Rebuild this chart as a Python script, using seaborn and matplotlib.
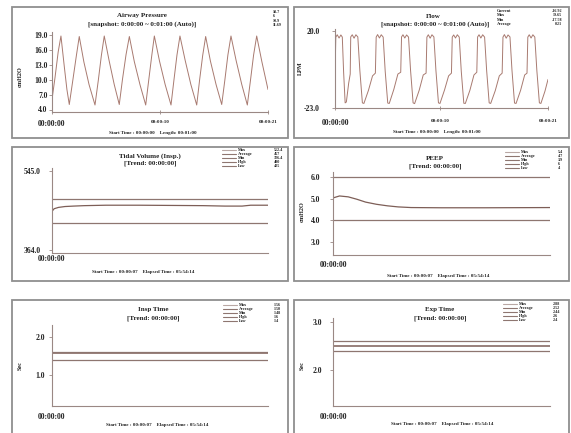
import matplotlib
matplotlib.use("Agg")
import matplotlib.pyplot as plt
import seaborn as sns
from matplotlib.lines import Line2D
from matplotlib.patches import Rectangle

# ---------------- data ----------------
paw_t = [0.00, 0.30, 0.60, 0.87, 1.20, 1.45, 1.68,
         2.00, 2.35, 2.65, 3.10, 3.60, 4.18,
         4.50, 4.80, 5.08, 5.55, 6.05, 6.54,
         6.85, 7.20, 7.52, 8.00, 8.55, 9.11,
         9.40, 9.70, 9.95, 10.45, 11.00, 11.57,
         11.85, 12.15, 12.44, 12.95, 13.50, 14.07,
         14.35, 14.65, 14.94, 15.40, 15.95, 16.50,
         16.80, 17.10, 17.40, 17.90, 18.45, 18.99,
         19.30, 19.60, 19.90, 20.40, 21.00]
paw_v = [6.0, 10.5, 15.5, 18.7, 12.5, 8.0, 5.0,
         9.5, 14.5, 18.6, 13.5, 9.0, 4.9,
         9.8, 14.8, 18.7, 13.8, 9.0, 5.0,
         10.0, 15.0, 18.6, 13.6, 9.0, 4.9,
         9.8, 14.8, 18.7, 13.7, 9.0, 4.9,
         9.8, 14.9, 18.7, 13.8, 9.0, 4.9,
         9.9, 14.8, 18.6, 13.7, 9.0, 5.0,
         9.8, 14.9, 18.7, 13.8, 9.0, 4.9,
         9.9, 14.9, 18.7, 13.6, 8.0]

flow_t = [0.00, 0.08, 0.22, 0.40, 0.58, 0.72, 0.85, 1.00, 1.12, 1.35, 1.50,
          1.55, 1.70, 1.88, 2.06, 2.25, 2.45, 2.70, 2.85, 3.30, 3.70, 3.98,
          4.06, 4.20, 4.38, 4.56, 4.75, 4.95, 5.20, 5.35, 5.80, 6.20, 6.48,
          6.56, 6.70, 6.88, 7.06, 7.25, 7.45, 7.70, 7.85, 8.30, 8.70, 8.98,
          9.06, 9.20, 9.38, 9.56, 9.75, 9.95, 10.20, 10.35, 10.80, 11.20, 11.48,
          11.56, 11.70, 11.88, 12.06, 12.25, 12.45, 12.70, 12.85, 13.30, 13.70, 13.98,
          14.06, 14.20, 14.38, 14.56, 14.75, 14.95, 15.20, 15.35, 15.80, 16.20, 16.48,
          16.56, 16.70, 16.88, 17.06, 17.25, 17.45, 17.70, 17.85, 18.30, 18.70, 18.93,
          19.01, 19.15, 19.33, 19.51, 19.70, 19.90, 20.15, 20.30, 20.70, 21.00]
flow_v = [-5.0, 16.5, 17.8, 16.0, 17.7, 16.5, -3.0, -20.0, -19.5, -9.0, -4.0,
          16.6, 17.8, 15.9, 17.8, 16.6, -2.0, -20.0, -20.3, -13.0, -5.0, -3.5,
          16.5, 17.9, 16.0, 17.8, 16.5, -2.5, -20.1, -20.3, -12.5, -4.0, -3.0,
          16.6, 17.8, 16.0, 17.7, 16.5, -2.0, -20.0, -20.4, -13.0, -4.5, -3.5,
          16.5, 17.8, 15.9, 17.8, 16.6, -2.0, -20.0, -20.3, -12.8, -5.0, -3.5,
          16.5, 17.7, 16.0, 17.8, 16.5, -2.5, -20.2, -20.3, -13.0, -4.5, -3.0,
          16.6, 17.8, 16.0, 17.8, 16.5, -2.0, -20.0, -20.3, -13.2, -5.0, -3.5,
          16.5, 17.9, 15.9, 17.7, 16.6, -2.0, -20.1, -20.3, -13.0, -4.5, -3.5,
          16.5, 17.8, 16.0, 17.8, 16.5, -2.0, -20.0, -20.3, -13.5, -7.0]

tidal_x = [0, 1, 3, 6, 10, 15, 25, 40, 55, 70, 80, 88, 92, 100]
tidal_v = [452, 458, 461, 463, 464, 465, 466, 466, 465.5, 465, 464, 464, 466, 466]
peep_x = [0, 3, 7, 11, 15, 20, 25, 30, 36, 50, 70, 100]
peep_v = [5.03, 5.12, 5.08, 4.97, 4.84, 4.74, 4.67, 4.62, 4.59, 4.58, 4.58, 4.59]
insp_x = [0, 50, 100]
insp_v = [1.56, 1.56, 1.56]
exp_x = [0, 50, 100]
exp_v = [2.51, 2.51, 2.51]

tidal_high_low = [480, 425]
peep_high_low = [6, 4]
insp_high_low = [1.6, 1.4]
exp_high_low = [2.6, 2.4]

legend_names = ["Max", "Average", "Min", "High", "Low"]
tidal_vals = ["512.4", "457", "326.4", "480", "425"]
peep_vals = ["5.4", "4.7", "3.9", "6", "4"]
insp_vals = ["1.56", "1.50", "1.48", "1.6", "1.4"]
exp_vals = ["2.88", "2.52", "2.44", "2.6", "2.4"]

paw_stats = ["18.7", "6", "10.9", "11.69"]
flow_stat_names = ["Current", "Max", "Min", "Average"]
flow_stat_vals = ["-16.92", "19.65", "-17.58", "0.21"]

wave_ticks = ["00:00:00", "00:00:10", "00:00:21"]

# ---------------- style ----------------
sns.set_theme(style="white")
plt.rcParams["font.family"] = ["Liberation Serif", "DejaVu Serif"]

W, H = 571, 433
fig = plt.figure(figsize=(W / 100, H / 100), dpi=100, facecolor="white")

WAVE_C = "#a87a70"
TREND_C = "#7d5e57"
LIMIT_C = "#8e7670"
SPINE_C = "#9a8884"
TXT_C = "#222222"


def px_axes(x0, y0, x1, y1):
    return fig.add_axes([x0 / W, 1 - y1 / H, (x1 - x0) / W, (y1 - y0) / H])


def ftext(x, y, s, **kw):
    kw.setdefault("color", TXT_C)
    fig.text(x / W, 1 - y / H, s, **kw)


def frame(x0, y0, x1, y1):
    fig.add_artist(Rectangle((x0 / W, 1 - y1 / H), (x1 - x0) / W, (y1 - y0) / H,
                             transform=fig.transFigure, facecolor="white",
                             edgecolor="#8f8f8f", lw=1.3, zorder=-5))


def style(ax, xlim, ylim, yticks, ylabels, ypad, xticks, xlabels, xpad, xsizes, xlen=0):
    ax.set_facecolor("none")
    for s in ["top", "right"]:
        ax.spines[s].set_visible(False)
    for s in ["left", "bottom"]:
        ax.spines[s].set_color(SPINE_C)
        ax.spines[s].set_linewidth(0.8)
    ax.set_xlim(*xlim)
    ax.set_ylim(*ylim)
    ax.set_yticks(yticks)
    ax.set_yticklabels(ylabels)
    ax.set_xticks(xticks)
    ax.set_xticklabels(xlabels)
    ax.tick_params(axis="y", length=2, width=0.6, color=SPINE_C, pad=ypad,
                   labelsize=5.5, labelcolor=TXT_C, direction="out", left=True)
    ax.tick_params(axis="x", length=xlen, width=0.6, color=SPINE_C, pad=xpad,
                   labelcolor=TXT_C, direction="inout", bottom=True)
    for lbl in ax.get_yticklabels():
        lbl.set_fontweight("bold")
    for lbl, sz in zip(ax.get_xticklabels(), xsizes):
        lbl.set_fontweight("bold")
        lbl.set_fontsize(sz)
    ax.set_xlabel("")
    ax.set_ylabel("")


def trend_legend(ax, x_sample, x_val, top, vals):
    handles = [Line2D([], [], color=LIMIT_C if i else "#b9a8a4", lw=0.8) for i in range(5)]
    leg1 = ax.legend(handles, legend_names, loc="upper left",
                     bbox_to_anchor=(x_sample / W, 1 - top / H), bbox_transform=fig.transFigure,
                     frameon=False, fontsize=3, handlelength=3.3, handletextpad=0.6,
                     labelspacing=0.0, borderpad=0, borderaxespad=0)
    for t in leg1.get_texts():
        t.set_fontweight("bold")
        t.set_color(TXT_C)
    ax.add_artist(leg1)
    blanks = [Line2D([], [], alpha=0) for _ in range(5)]
    leg2 = ax.legend(blanks, vals, loc="upper left",
                     bbox_to_anchor=(x_val / W, 1 - top / H), bbox_transform=fig.transFigure,
                     frameon=False, fontsize=3, handlelength=0, handletextpad=0,
                     labelspacing=0.0, borderpad=0, borderaxespad=0)
    for t in leg2.get_texts():
        t.set_fontweight("bold")
        t.set_color(TXT_C)


# frames
frame(12, 7, 288, 138)
frame(294, 7, 569, 138)
frame(12, 147, 288, 281)
frame(294, 147, 569, 281)
frame(12, 300, 288, 440)
frame(294, 300, 569, 440)

TITLE = dict(ha="center", va="center", fontsize=5, fontweight="bold")
SUB = dict(ha="center", va="center", fontsize=3.6, fontweight="bold")
YL = dict(ha="center", va="center", fontsize=4.5, fontweight="bold", rotation=90)

# ---- Panel 1: Airway Pressure ----
ax1 = px_axes(52, 32, 268, 112)
sns.lineplot(x=paw_t, y=paw_v, ax=ax1, color=WAVE_C, lw=0.7, errorbar=None)
style(ax1, (0, 21), (3.5, 19.5), [4, 7, 10, 13, 16, 19],
      ["4.0", "7.0", "10.0", "13.0", "16.0", "19.0"], 1.2,
      [0, 10.5, 21], wave_ticks, 4.5, [5.5, 3.6, 3.6], xlen=3)
ftext(141.7, 16, "Airway Pressure", **TITLE)
ftext(141.7, 24.3, "[snapshot: 0:00:00 ~ 0:01:00 (Auto)]", **TITLE)
ftext(273, 10, "\n".join(paw_stats), ha="left", va="top", fontsize=3, fontweight="bold",
      linespacing=1.15)
ftext(20, 76.7, "cmH2O", **YL)
ftext(153, 132.7, "Start Time : 00:00:00    Length: 00:01:00", **SUB)

# ---- Panel 2: Flow ----
ax2 = px_axes(335, 29, 548, 108.3)
sns.lineplot(x=flow_t, y=flow_v, ax=ax2, color=WAVE_C, lw=0.7, errorbar=None)
style(ax2, (0, 21), (-23, 21), [-23, 20], ["-23.0", "20.0"], 9,
      [0, 10.35, 21], wave_ticks, 6, [5.5, 3.6, 3.6], xlen=3)
ftext(433, 16, "Flow", **TITLE)
ftext(435, 24.3, "[snapshot: 0:00:00 ~ 0:01:00 (Auto)]", **TITLE)
ftext(497, 9, "\n".join(flow_stat_names), ha="left", va="top", fontsize=3,
      fontweight="bold", linespacing=1.15)
ftext(562, 9, "\n".join(flow_stat_vals), ha="right", va="top", fontsize=3,
      fontweight="bold", linespacing=1.15)
ftext(300, 68.3, "LPM", **YL)
ftext(437, 131.7, "Start Time : 00:00:00    Length: 00:01:00", **SUB)

# ---- Panel 3: Tidal Volume ----
ax3 = px_axes(52, 168, 268, 252.7)
sns.lineplot(x=tidal_x, y=tidal_v, ax=ax3, color=TREND_C, lw=0.9, errorbar=None)
for v in tidal_high_low:
    ax3.axhline(v, color=LIMIT_C, lw=0.9)
style(ax3, (0, 100), (357.9, 550.7), [364, 545], ["364.0", "545.0"], 6,
      [0], ["00:00:00"], 1.5, [5.5])
ftext(150, 156, "Tidal Volume (Insp.)", **TITLE)
ftext(150, 163.3, "[Trend: 00:00:00]", **TITLE)
trend_legend(ax3, 222, 274, 148, tidal_vals)
ftext(143, 272.3, "Start Time : 00:00:07    Elapsed Time : 05:54:14", **SUB)

# ---- Panel 4: PEEP ----
ax4 = px_axes(333, 171.7, 550, 255)
sns.lineplot(x=peep_x, y=peep_v, ax=ax4, color=TREND_C, lw=0.9, errorbar=None)
for v in peep_high_low:
    ax4.axhline(v, color=LIMIT_C, lw=0.9)
style(ax4, (0, 100), (2.42, 6.23), [3, 4, 5, 6], ["3.0", "4.0", "5.0", "6.0"], 7,
      [0], ["00:00:00"], 4, [5.5])
ftext(435, 158.3, "PEEP", **TITLE)
ftext(435, 166.7, "[Trend: 00:00:00]", **TITLE)
trend_legend(ax4, 505, 558, 150, peep_vals)
ftext(302, 211.7, "cmH2O", **YL)
ftext(438, 276, "Start Time : 00:00:07    Elapsed Time : 05:54:14", **SUB)

# ---- Panel 5: Insp Time ----
ax5 = px_axes(52, 325, 268, 406)
sns.lineplot(x=insp_x, y=insp_v, ax=ax5, color=TREND_C, lw=1.1, errorbar=None)
for v in insp_high_low:
    ax5.axhline(v, color=LIMIT_C, lw=0.9)
style(ax5, (0, 100), (0.19, 2.3), [1, 2], ["1.0", "2.0"], 3,
      [0], ["00:00:00"], 5, [5.5])
ftext(153, 310, "Insp Time", **TITLE)
ftext(153, 318.3, "[Trend: 00:00:00]", **TITLE)
trend_legend(ax5, 223, 274, 303, insp_vals)
ftext(20, 365, "Sec", **YL)
ftext(157, 425, "Start Time : 00:00:07    Elapsed Time : 05:54:14", **SUB)

# ---- Panel 6: Exp Time ----
ax6 = px_axes(333, 318, 550, 405.7)
sns.lineplot(x=exp_x, y=exp_v, ax=ax6, color=TREND_C, lw=1.1, errorbar=None)
for v in exp_high_low:
    ax6.axhline(v, color=LIMIT_C, lw=0.9)
style(ax6, (0, 100), (1.245, 3.09), [2, 3], ["2.0", "3.0"], 6,
      [0], ["00:00:00"], 5, [5.5])
ftext(440, 310, "Exp Time", **TITLE)
ftext(440, 318.3, "[Trend: 00:00:00]", **TITLE)
trend_legend(ax6, 503, 553, 302, exp_vals)
ftext(302, 365, "Sec", **YL)
ftext(441.7, 424.3, "Start Time : 00:00:07    Elapsed Time : 05:54:14", **SUB)

fig.savefig("out.png", dpi=100, facecolor="white")
